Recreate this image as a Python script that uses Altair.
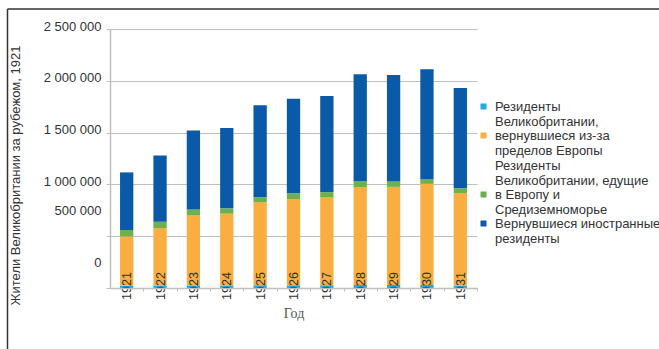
import altair as alt
import pandas as pd

# Years on the category axis
years = ["1921", "1922", "1923", "1924", "1925", "1926",
         "1927", "1928", "1929", "1930", "1931"]

# Stacked series, bottom to top
cyan_vals = [22000, 20000, 20000, 22000, 26000, 26000,
             26000, 30000, 30000, 30000, 22000]
orange_vals = [476000, 558000, 680000, 695000, 801000, 833000,
               852000, 946000, 946000, 975000, 895000]
green_vals = [62000, 62000, 58000, 52000, 51000, 55000,
              48000, 55000, 52000, 45000, 45000]
blue_vals = [556000, 640000, 763000, 775000, 885000, 913000,
             927000, 1033000, 1029000, 1062000, 968000]

# Legend entries, one list of text lines per series
legend_lines = [
    ["Резиденты", "Великобритании,"],
    ["вернувшиеся из-за", "пределов Европы", "Резиденты", "Великобритании, едущие"],
    ["в Европу и", "Средиземноморье"],
    ["Вернувшиеся иностранные", "резиденты"],
]
series_colors = ["#1DA9E1", "#FAAE42", "#6DB04D", "#0B5AA8"]

y_title = "Жители Великобритании за рубежом, 1921"
x_title = "Год"

series_names = ["|".join(lines) for lines in legend_lines]
all_vals = [cyan_vals, orange_vals, green_vals, blue_vals]

rows = []
for k, (name, vals) in enumerate(zip(series_names, all_vals)):
    for yr, v in zip(years, vals):
        rows.append({"year": yr, "series": name, "value": v, "order": k})
df = pd.DataFrame(rows)

font = "Liberation Sans"
plot_w, plot_h = 367, 259
half_step = plot_w / len(years) / 2

bars = alt.Chart(df).mark_bar(width=13.3).encode(
    x=alt.X(
        "year:N",
        sort=years,
        scale=alt.Scale(paddingInner=0.6, paddingOuter=0.3),
        axis=alt.Axis(
            title=x_title,
            titleFont="Liberation Serif",
            titleFontSize=14,
            titleFontWeight="normal",
            titleColor="#555555",
            titleY=25,
            titleBaseline="middle",
            labelAngle=-90,
            labelAlign="center",
            labelBaseline="middle",
            labelPadding=-5.5,
            labelLimit=100,
            labelFont=font,
            labelFontSize=12.5,
            labelColor="#333333",
            tickOffset=half_step,
            labelOffset=-half_step,
            tickSize=3,
            tickColor="#bfbfbf",
            domainColor="#bfbfbf",
            domainWidth=1.5,
            grid=False,
            zindex=1,
        ),
    ),
    y=alt.Y(
        "value:Q",
        stack="zero",
        scale=alt.Scale(domain=[0, 2500000], nice=False),
        axis=alt.Axis(
            title=y_title,
            titleFont=font,
            titleFontSize=13,
            titleFontWeight="normal",
            titleColor="#333333",
            titleAngle=-90,
            titleAlign="center",
            titleBaseline="middle",
            titleX=-95,
            titleY=146,
            values=[0, 500000, 1000000, 1500000, 2000000, 2500000],
            labelExpr="replace(format(datum.value, ','), /,/g, ' ')",
            labelFont=font,
            labelFontSize=13,
            labelColor="#333333",
            labelBaseline="middle",
            labelOffset={"condition": {"test": "datum.value <= 500000", "value": -26},
                         "value": -3},
            labelPadding=5,
            tickSize=4,
            tickColor="#bfbfbf",
            gridColor="#bfbfbf",
            gridWidth=1,
            domainColor="#bfbfbf",
            domainWidth=1.5,
        ),
    ),
    color=alt.Color(
        "series:N",
        sort=series_names,
        scale=alt.Scale(domain=series_names, range=series_colors),
        legend=alt.Legend(
            title=None,
            orient="none",
            legendX=370,
            legendY=71,
            padding=0,
            rowPadding=0,
            symbolType="square",
            symbolSize=36,
            symbolStrokeWidth=0,
            symbolOffset=-3,
            labelExpr="split(datum.label, '|')",
            labelFont=font,
            labelFontSize=13,
            labelColor="#333333",
            labelLimit=400,
            labelOffset=5,
        ),
    ),
    order=alt.Order("order:Q", sort="ascending"),
)

one = pd.DataFrame({"a": [0]})
frame_top = alt.Chart(one).mark_rule(color="#333333", strokeWidth=1.5).encode(
    x=alt.value(-102.5), x2=alt.value(570), y=alt.value(-20)
)
frame_left = alt.Chart(one).mark_rule(color="#333333", strokeWidth=1.5).encode(
    x=alt.value(-102.5), y=alt.value(-20), y2=alt.value(340)
)

chart = alt.layer(bars, frame_top, frame_left).properties(
    width=plot_w,
    height=plot_h,
    autosize=alt.AutoSizeParams(type="none"),
    padding={"left": 110, "top": 29, "right": 182, "bottom": 61},
).configure(
    background="white",
    view=alt.ViewConfig(stroke="transparent", strokeWidth=0),
    style={"cell": {"stroke": "transparent", "strokeWidth": 0}},
)

chart.save("out.html", embed_options={"renderer": "svg", "actions": False})
